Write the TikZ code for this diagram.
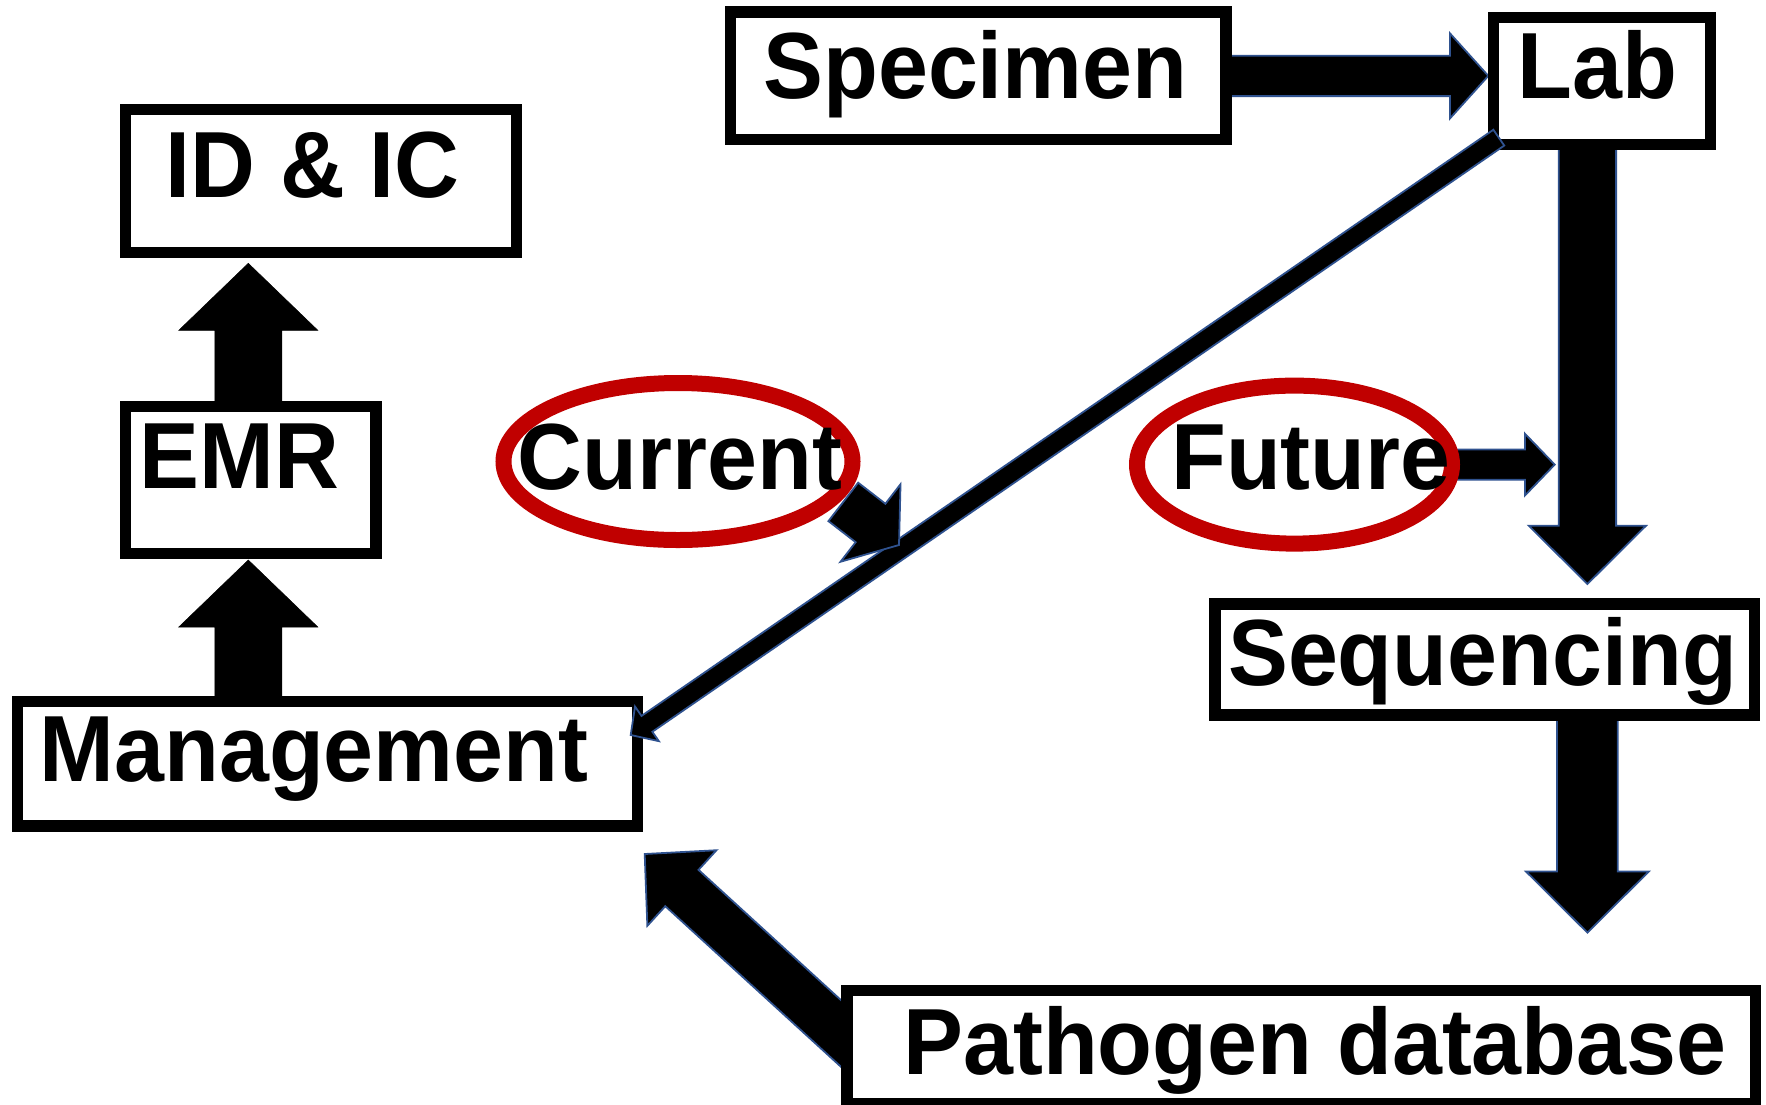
\documentclass[tikz,border=0pt]{standalone}
\usepackage{fontspec}
\setmainfont{Liberation Sans}[FakeStretch=0.955]
\usetikzlibrary{calc,shapes.geometric}
\definecolor{ringred}{RGB}{192,0,0}
\definecolor{edgeblue}{RGB}{47,82,143}
\pgfdeclarelayer{bg}
\pgfsetlayers{bg,main}
\tikzset{
  box/.style={rectangle, draw=black, fill=white, line width=11.5pt, inner sep=0pt, outer sep=0pt},
  ring/.style={ellipse, draw=ringred, line width=16pt, inner sep=0pt, outer sep=0pt},
  lbl/.style={anchor=base, inner sep=0pt, font=\fontsize{94}{104}\selectfont\bfseries},
  blockarr/.style={fill=black, draw=edgeblue, line width=1.8pt, line join=miter},
  plainarr/.style={blockarr, draw=black, line width=0.5pt},
}
% block arrow: [style]{tail}{tip}{shaft half width}{head half width}{head length}
\newcommand{\blockarrow}[6][]{%
  \coordinate (bahead) at ($(#3)!#6!(#2)$);
  \path[blockarr,#1]
    ($(#2)!#4!90:(#3)$) -- ($(bahead)!#4!90:(#3)$) -- ($(bahead)!#5!90:(#3)$)
    -- (#3) -- ($(bahead)!#5!-90:(#3)$) -- ($(bahead)!#4!-90:(#3)$)
    -- ($(#2)!#4!-90:(#3)$) -- cycle;
}
\begin{document}
\begin{tikzpicture}[x=1pt,y=-1pt]
\useasboundingbox (0,0) rectangle (1766,1104);

% boxes
\node[box, minimum width=495.7pt, minimum height=127.4pt] (spec) at (978.35,75.9) {};
\node[box, minimum width=217pt,   minimum height=126.8pt] (lab)  at (1602,80.9) {};
\node[box, minimum width=391.3pt, minimum height=143pt]   (idic) at (320.95,180.8) {};
\node[box, minimum width=250.6pt, minimum height=147.2pt] (emr)  at (250.6,480) {};
\node[box, minimum width=620.3pt, minimum height=124.1pt] (mgmt) at (327.55,763.75) {};
\node[box, minimum width=539.3pt, minimum height=111.1pt] (seq)  at (1484.85,659.65) {};
\node[box, minimum width=908.2pt, minimum height=113pt]   (path) at (1301.3,1047) {};

% rings
\node[ring, minimum width=349pt, minimum height=157pt] (cur) at (678,461.5) {};
\node[ring, minimum width=315pt, minimum height=158pt] (fut) at (1294.5,464.6) {};

% arrows lying under the boxes
\begin{pgfonlayer}{bg}
  \coordinate (a1t) at ($(emr.north)+(-2.3,0)$);
  \coordinate (a1h) at ($(idic.south)+(-72.65,11)$);
  \blockarrow[plainarr]{a1t}{a1h}{33.5pt}{69.5pt}{67pt}

  \coordinate (a2t) at ($(mgmt.north)+(-79.25,0)$);
  \coordinate (a2h) at ($(emr.south)+(-2.3,6.4)$);
  \blockarrow[plainarr]{a2t}{a2h}{33.5pt}{69.5pt}{67pt}

  \coordinate (a3t) at (spec.east);
  \coordinate (a3h) at ($(lab.west |- spec.east)+(-5.2,0)$);
  \blockarrow{a3t}{a3h}{20.2pt}{42.5pt}{38.3pt}

  \coordinate (a4t) at ($(lab.south)+(-14.6,0)$);
  \coordinate (a4h) at ($(seq.north)+(102.55,-20.1)$);
  \blockarrow{a4t}{a4h}{28.7pt}{58.6pt}{58.3pt}

  \coordinate (a5t) at ($(seq.south)+(102.55,0)$);
  \coordinate (a5h) at ($(path.north)+(286.1,-57.9)$);
  \blockarrow{a5t}{a5h}{30.4pt}{61.4pt}{61.1pt}

  \coordinate (a6t) at ($(path.west)+(22.8,13)$);
  \coordinate (a6h) at ($(mgmt.south east)+(7,28.2)$);
  \blockarrow{a6t}{a6h}{24.6pt}{51.2pt}{50.4pt}

  \coordinate (a9t) at (fut.east);
  \coordinate (a9h) at ($(fut.east -| lab.south)+(-47.3,0)$);
  \blockarrow{a9t}{a9h}{15.2pt}{30.9pt}{29.8pt}
\end{pgfonlayer}

% result path from the lab straight back to management
\coordinate (a7t) at ($(lab.south west)+(5.3,-6.65)$);
\coordinate (a7h) at ($(mgmt.east)+(-7,-28.75)$);
\blockarrow{a7t}{a7h}{9.6pt}{21pt}{19.7pt}

% pointer from the current ring onto that path
\coordinate (curtail) at (843.3,501.9);
\coordinate (curtip) at (899,545);
\blockarrow{curtail}{curtip}{24.3pt}{49pt}{36pt}

% labels
\node[lbl] (tidic) at (312.5,197)    {ID \& IC};
\node[lbl] (temr)  at (239.6,488.6)  {EMR};
\node[lbl] (tcur)  at (680,489.3)    {Current};
\node[lbl] (tfut)  at (1310.8,489.3) {Future};
\node[lbl] (tspec) at (975.4,98)     {Specimen};
\node[lbl] (tlab)  at (1597.5,98.2)  {Lab};
\node[lbl] (tseq)  at (1482.5,685)   {Sequencing};
\node[lbl] (tmgmt) at (314,781.5)    {Management};
\node[lbl] (tpath) at (1315,1074.4)  {Pathogen database};
\end{tikzpicture}
\end{document}
